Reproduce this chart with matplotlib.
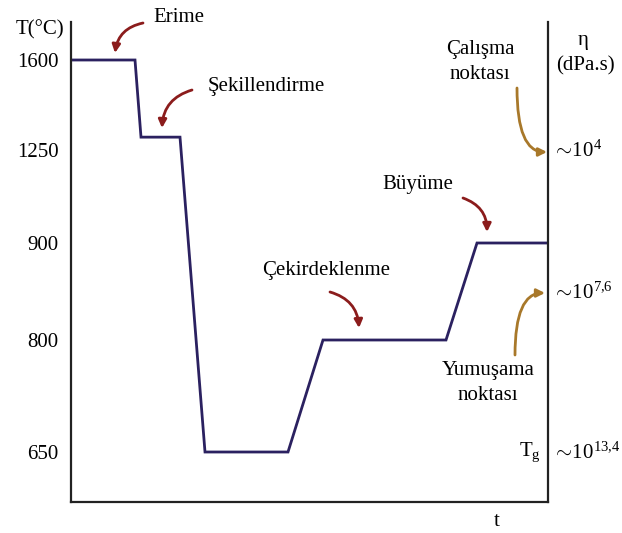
import matplotlib.pyplot as plt
import numpy as np
from matplotlib.scale import FuncScale

plt.rcParams["font.family"] = ["Liberation Serif", "DejaVu Serif"]
plt.rcParams["mathtext.fontset"] = "custom"
plt.rcParams["mathtext.rm"] = "Liberation Serif"
plt.rcParams["mathtext.it"] = "Liberation Serif"

# temperature tick labels (left axis, not to scale in the original drawing)
temp_ticks = [650, 800, 900, 1250, 1600]
# height of each tick level in the drawing (arbitrary units, bottom = 0)
tick_level = [50, 162, 259, 352, 442]

# process profile: time (arbitrary units) and temperature
time = [0, 64, 70, 109, 134, 217, 252, 375, 406, 477]
temp = [1600, 1600, 1300, 1300, 650, 650, 800, 800, 900, 900]

# viscosity labels on the right axis
visc_labels = [r"$\sim\!10^{4}$", r"$\sim\!10^{7{,}6}$", r"$\sim\!10^{13{,}4}$"]
visc_temp = [1245, 848, 648]

# knots extended on both ends so the scale extrapolates linearly
k_t = np.array([0] + temp_ticks + [3000], dtype=float)
k_p = np.array([50 - 650 * 112 / 150] + tick_level + [442 + 1400 * 90 / 350])


def fwd(v):
    return np.interp(v, k_t, k_p)


def inv(v):
    return np.interp(v, k_p, k_t)


W, H = 622, 533
fig = plt.figure(figsize=(W / 100, H / 100), dpi=100)
ax = fig.add_axes([71 / W, 31 / H, 477 / W, 480 / H])
ax.set_yscale(FuncScale(ax, (fwd, inv)))
ax.set_ylim(inv(0), inv(480))
ax.set_xlim(0, 477)

ax.plot(time, temp, color="#2b2160", lw=2.0, solid_joinstyle="miter")

for s in ["left", "bottom", "right"]:
    ax.spines[s].set_linewidth(1.6)
    ax.spines[s].set_color("#222222")
ax.spines["top"].set_visible(False)
ax.set_xticks([])
ax.set_yticks(temp_ticks)
ax.set_yticklabels([str(t) for t in temp_ticks], fontsize=15)
ax.tick_params(axis="y", length=0, pad=9)


def px(x, y):
    # figure fraction from top-left pixel position
    return x / W, (H - y) / H


def fpx(x, y):
    return x, H - y


fs = 15
fig.text(*px(40, 30), "T(°C)", fontsize=fs, ha="center", va="center")
fig.text(*px(497, 522), "t", fontsize=fs, ha="center", va="center")
fig.text(*px(583, 40), "η", fontsize=fs, ha="center", va="center")
fig.text(*px(585, 66), "(dPa.s)", fontsize=fs, ha="center", va="center")

for lab, t in zip(visc_labels, visc_temp):
    ax.text(1.008, fwd(t) / 480, lab, transform=ax.transAxes, fontsize=fs,
            ha="left", va="center")
ax.text(0.985, fwd(650) / 480, r"T$_{\rm g}$", transform=ax.transAxes,
        fontsize=fs, ha="right", va="center")

red = "#8b1c1c"
gold = "#a8782a"

labels = [
    ("Erime", (179, 18), (143, 23), (115, 53), 0.35, red),
    ("Şekillendirme", (266, 86), (192, 90), (162, 128), 0.35, red),
    ("Çekirdeklenme", (326, 271), (330, 292), (359, 328), -0.35, red),
    ("Büyüme", (418, 185), (463, 198), (487, 232), -0.35, red),
]
for text, tp, tail, head, rad, col in labels:
    fig.text(*px(*tp), text, fontsize=fs, ha="center", va="center")
    ax.annotate("", xy=fpx(*head), xytext=fpx(*tail), xycoords="figure pixels",
                textcoords="figure pixels",
                arrowprops=dict(arrowstyle="-|>", color=col, lw=2,
                                mutation_scale=12, shrinkA=0, shrinkB=0,
                                connectionstyle=f"arc3,rad={rad}"))

fig.text(*px(480, 62), "Çalışma\nnoktası", fontsize=fs, ha="center",
         va="center", linespacing=1.45)
ax.annotate("", xy=fpx(547, 152), xytext=fpx(517, 88), xycoords="figure pixels",
            textcoords="figure pixels",
            arrowprops=dict(arrowstyle="-|>", color=gold, lw=2, mutation_scale=12,
                            shrinkA=0, shrinkB=0,
                            connectionstyle="angle3,angleA=-90,angleB=0"))
fig.text(*px(488, 383), "Yumuşama\nnoktası", fontsize=fs, ha="center",
         va="center", linespacing=1.45)
ax.annotate("", xy=fpx(545, 293), xytext=fpx(515, 355), xycoords="figure pixels",
            textcoords="figure pixels",
            arrowprops=dict(arrowstyle="-|>", color=gold, lw=2, mutation_scale=12,
                            shrinkA=0, shrinkB=0,
                            connectionstyle="angle3,angleA=90,angleB=0"))

fig.savefig("out.png", dpi=100)
